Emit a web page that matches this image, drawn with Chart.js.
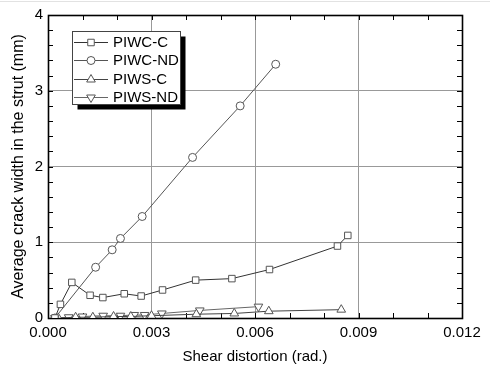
<!DOCTYPE html>
<html><head><meta charset="utf-8">
<script src="https://cdn.jsdelivr.net/npm/chart.js@4.4.1/dist/chart.umd.min.js"></script>
<style>html,body{margin:0;padding:0;background:#fff;}#wrap{width:490px;height:366px;}</style>
</head><body><div id="wrap"><canvas id="c" width="490" height="366"></canvas></div>
<script>
// ---- data ----
const seriesNames = ["PIWC-C", "PIWC-ND", "PIWS-C", "PIWS-ND"];
const piwcC_x = [0.0002, 0.00036, 0.00069, 0.00122, 0.00159, 0.00221, 0.0027, 0.00332, 0.00428, 0.00533, 0.00642, 0.00839, 0.00869];
const piwcC_y = [0.0, 0.18, 0.47, 0.30, 0.27, 0.32, 0.29, 0.37, 0.50, 0.52, 0.64, 0.95, 1.09];
const piwcND_x = [0.0002, 0.00138, 0.00186, 0.0021, 0.00273, 0.00419, 0.00557, 0.0066];
const piwcND_y = [0.0, 0.67, 0.90, 1.05, 1.34, 2.12, 2.80, 3.35];
const piwsC_x = [0.0003, 0.0008, 0.0013, 0.0019, 0.0024, 0.0030, 0.0043, 0.0054, 0.0064, 0.0085];
const piwsC_y = [0.0, 0.01, 0.01, 0.02, 0.02, 0.03, 0.05, 0.06, 0.09, 0.11];
const piwsND_x = [0.0002, 0.0006, 0.0010, 0.0016, 0.0021, 0.0025, 0.0028, 0.0033, 0.0044, 0.0061];
const piwsND_y = [0.0, 0.01, 0.02, 0.03, 0.03, 0.04, 0.04, 0.06, 0.10, 0.15];
const xTicks = ["0.000", "0.003", "0.006", "0.009", "0.012"];
const yTicks = ["0", "1", "2", "3", "4"];

const FONT = "'Liberation Sans', Arial, sans-serif";
const pts = (xs, ys) => xs.map((x, i) => ({x: x, y: ys[i]}));
const styles = [
  {pointStyle: 'rect', radius: 4.6, rotation: 0, line: '#333'},
  {pointStyle: 'circle', radius: 4, rotation: 0, line: '#555'},
  {pointStyle: 'triangle', radius: 5, rotation: 0, line: '#444'},
  {pointStyle: 'triangle', radius: 5, rotation: 180, line: '#666'}
];
const allData = [pts(piwcC_x, piwcC_y), pts(piwcND_x, piwcND_y), pts(piwsC_x, piwsC_y), pts(piwsND_x, piwsND_y)];
const datasets = allData.map((d, i) => ({
  label: seriesNames[i],
  data: d,
  showLine: true,
  borderColor: styles[i].line,
  borderWidth: 1,
  pointStyle: styles[i].pointStyle,
  pointRadius: styles[i].radius,
  pointRotation: styles[i].rotation,
  pointBorderColor: '#555',
  pointBackgroundColor: '#fff',
  pointBorderWidth: 1,
  tension: 0
}));

const framePlugin = {
  id: 'frame',
  beforeDatasetsDraw(chart) {
    const {ctx, chartArea: a, scales} = chart;
    ctx.save();
    ctx.strokeStyle = '#000';
    ctx.lineWidth = 1;
    const xs = scales.x, ys = scales.y;
    for (let k = 0; k <= 12; k++) {
      const px = Math.round(xs.getPixelForValue(k * 0.001)) + 0.5;
      const L = 5;
      ctx.beginPath();
      ctx.moveTo(px, a.bottom); ctx.lineTo(px, a.bottom - L);
      ctx.moveTo(px, a.top); ctx.lineTo(px, a.top + L);
      ctx.stroke();
    }
    for (let k = 0; k <= 20; k++) {
      const py = Math.round(ys.getPixelForValue(k * 0.2)) + 0.5;
      const L = 5;
      ctx.beginPath();
      ctx.moveTo(a.left, py); ctx.lineTo(a.left + L, py);
      ctx.moveTo(a.right, py); ctx.lineTo(a.right - L, py);
      ctx.stroke();
    }
    ctx.lineWidth = 1.6;
    ctx.strokeRect(Math.round(a.left) + 0.5, Math.round(a.top) + 0.5, Math.round(a.right - a.left), Math.round(a.bottom - a.top));
    ctx.strokeStyle = '#e2e2e2';
    ctx.lineWidth = 1;
    ctx.beginPath(); ctx.moveTo(0, 1.5); ctx.lineTo(490, 1.5); ctx.stroke();
    ctx.restore();
  },
  afterDraw(chart) {
    const {ctx} = chart;
    ctx.save();
    const bx = 72.5, by = 31.5, bw = 108, bh = 73;
    ctx.fillStyle = '#000';
    ctx.fillRect(bx + 5, by + 5, bw, bh);
    ctx.fillStyle = '#fff';
    ctx.fillRect(bx, by, bw, bh);
    ctx.strokeStyle = '#444';
    ctx.lineWidth = 1;
    ctx.strokeRect(bx, by, bw, bh);
    ctx.font = '15px ' + FONT;
    ctx.textBaseline = 'middle';
    ctx.textAlign = 'left';
    chart.data.datasets.forEach((ds, i) => {
      const y = 42 + i * 18.3;
      ctx.strokeStyle = ds.borderColor;
      ctx.lineWidth = 1;
      ctx.beginPath(); ctx.moveTo(74, Math.round(y) + 0.5); ctx.lineTo(108, Math.round(y) + 0.5); ctx.stroke();
      ctx.fillStyle = '#fff';
      ctx.strokeStyle = ds.pointBorderColor;
      Chart.helpers.drawPoint(ctx, {pointStyle: ds.pointStyle, rotation: ds.pointRotation, radius: ds.pointRadius, borderWidth: 1}, 91, Math.round(y) + 0.5);
      ctx.fillStyle = '#000';
      ctx.fillText(ds.label, 113, y + 1);
    });
    ctx.restore();
  }
};

new Chart(document.getElementById('c'), {
  type: 'scatter',
  data: {datasets: datasets},
  options: {
    responsive: false,
    animation: false,
    layout: {padding: {top: 15, right: 28, left: 0, bottom: 0}},
    plugins: {legend: {display: false}, tooltip: {enabled: false}},
    scales: {
      x: {
        type: 'linear', min: 0, max: 0.012,
        afterFit(s) { s.height = 48; },
        afterBuildTicks(s) { s.ticks = xTicks.map(t => ({value: parseFloat(t)})); },
        ticks: {callback: (v, i) => xTicks[i], color: '#000', font: {size: 15, family: FONT}, padding: 6, maxRotation: 0, autoSkip: false},
        grid: {color: '#999', borderDash: [1, 3], drawTicks: false, lineWidth: 1},
        border: {display: false},
        title: {display: true, text: 'Shear distortion (rad.)', color: '#000', font: {size: 15, family: FONT}, padding: {bottom: 0, top: 0}}
      },
      y: {
        type: 'linear', min: 0, max: 4,
        afterFit(s) { s.width = 48; },
        afterBuildTicks(s) { s.ticks = yTicks.map(t => ({value: parseFloat(t)})); },
        ticks: {callback: (v, i) => yTicks[i], color: '#000', font: {size: 15, family: FONT}, padding: 5, autoSkip: false},
        grid: {color: '#999', borderDash: [1, 3], drawTicks: false, lineWidth: 1},
        border: {display: false},
        title: {display: true, text: 'Average crack width in the strut (mm)', color: '#000', font: {size: 16, family: FONT}, padding: {top: 9, bottom: 0}}
      }
    }
  },
  plugins: [framePlugin]
});
</script>
</body></html>
